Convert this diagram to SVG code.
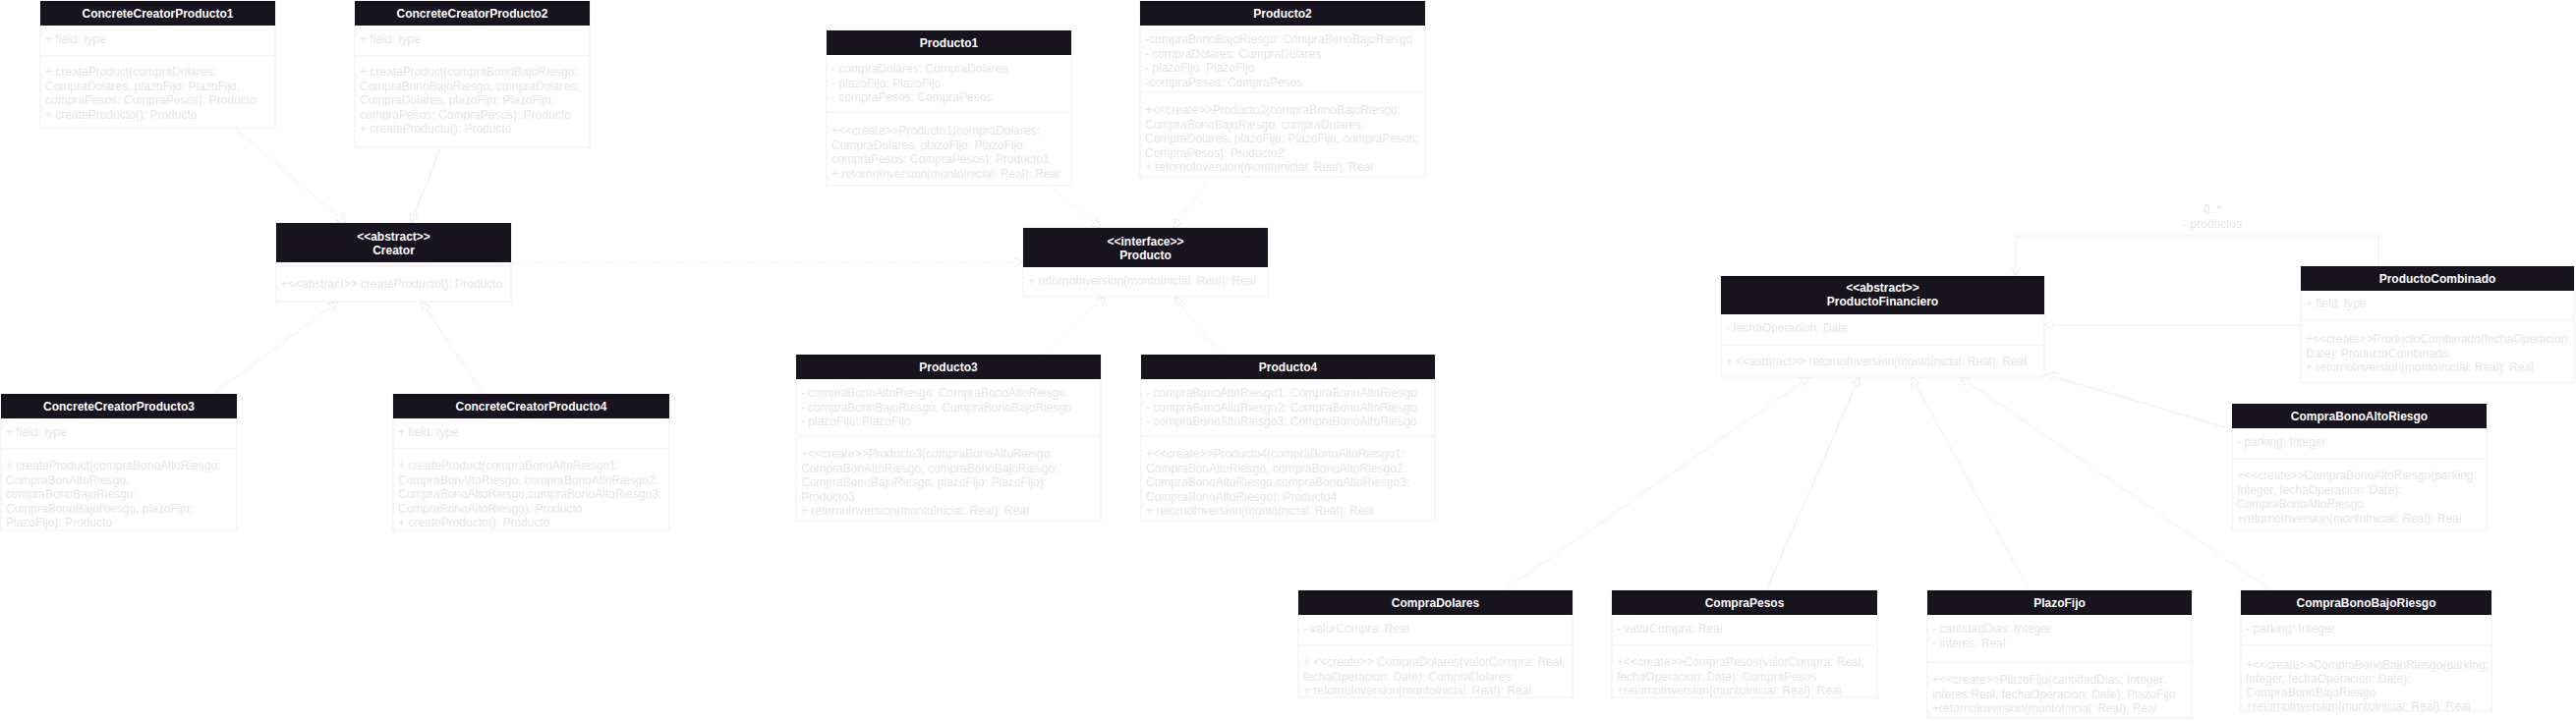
<svg xmlns="http://www.w3.org/2000/svg" width="2621" height="734" viewBox="0 0 2621 734">
<style>
.box{fill:#ffffff;stroke:#eeeeee;stroke-width:1}
.hd{fill:#18141f;stroke:none}
.sep{stroke:#eeeeee;stroke-width:1}
.ht{font-family:"Liberation Sans",Arial,sans-serif;font-size:12px;font-weight:bold;fill:#ffffff;text-anchor:middle}
.t{font-family:"Liberation Sans",Arial,sans-serif;font-size:12px;fill:#e6e6e6}
.lbl{font-family:"Liberation Sans",Arial,sans-serif;font-size:12px;fill:#e6e6e6;text-anchor:middle}
.c{fill:none;stroke:#eeeeee;stroke-width:1}
.d{stroke-dasharray:3 3}
</style>
<defs>
<marker id="tri" viewBox="0 0 10 10" refX="10" refY="5" markerWidth="9" markerHeight="9" markerUnits="userSpaceOnUse" orient="auto"><path d="M0,0 L10,5 L0,10 z" fill="#ffffff" stroke="#e6e6e6" stroke-width="1"/></marker>
<marker id="open" viewBox="0 0 10 10" refX="10" refY="5" markerWidth="9" markerHeight="9" markerUnits="userSpaceOnUse" orient="auto"><path d="M0,0 L10,5 L0,10" fill="none" stroke="#e6e6e6" stroke-width="1"/></marker>
</defs>
<rect width="2621" height="734" fill="#ffffff"/>

<g id="connectors">
<path class="c" d="M238,130 L352,227" marker-end="url(#tri)"/>
<path class="c" d="M448,151 L418,227" marker-end="url(#tri)"/>
<path class="c" d="M217,401 L344,307" marker-end="url(#tri)"/>
<path class="c" d="M492,401 L429,307" marker-end="url(#tri)"/>
<path class="c d" d="M520,267 L1041,267" marker-end="url(#open)"/>
<path class="c d" d="M1067,189 L1120,232" marker-end="url(#tri)"/>
<path class="c d" d="M1233,180 L1194,232" marker-end="url(#tri)"/>
<path class="c d" d="M1062,361 L1125,302" marker-end="url(#tri)"/>
<path class="c d" d="M1242,361 L1195,302" marker-end="url(#tri)"/>
<path class="c" d="M1530,601 L1841,384" marker-end="url(#tri)"/>
<path class="c" d="M1797,601 L1892,384" marker-end="url(#tri)"/>
<path class="c" d="M2065,601 L1945,384" marker-end="url(#tri)"/>
<path class="c" d="M2311,601 L1995,384" marker-end="url(#tri)"/>
<path class="c" d="M2271,437 L2081,381" marker-end="url(#tri)"/>
<path class="c" d="M2341,331 L2080,331" marker-end="url(#tri)"/>
<path class="c" d="M2420,271 L2420,240 L2051,240 L2051,281" marker-end="url(#open)"/>
<text class="lbl" x="2251" y="217">0..*</text>
<text class="lbl" x="2251" y="232">- productos</text>
</g>

<g id="ConcreteCreatorProducto1">
<rect class="box" x="41" y="1" width="239" height="129"/>
<rect class="hd" x="41" y="1" width="239" height="25"/>
<text class="ht" x="160.5" y="18">ConcreteCreatorProducto1</text>
<text class="t" x="46" y="44">+ field: type</text>
<line class="sep" x1="41" y1="57" x2="280" y2="57"/>
<text class="t" x="46" y="77">+ createProduct(compraDolares:</text>
<text class="t" x="46" y="91.5">CompraDolares, plazoFijo: PlazoFijo,</text>
<text class="t" x="46" y="106">compraPesos: CompraPesos): Producto</text>
<text class="t" x="46" y="120.5">+ createProducto(): Producto</text>
</g>

<g id="ConcreteCreatorProducto2">
<rect class="box" x="361" y="1" width="239" height="149"/>
<rect class="hd" x="361" y="1" width="239" height="25"/>
<text class="ht" x="480.5" y="18">ConcreteCreatorProducto2</text>
<text class="t" x="366" y="44">+ field: type</text>
<line class="sep" x1="361" y1="57" x2="600" y2="57"/>
<text class="t" x="366" y="77">+ createProduct(compraBonoBajoRiesgo:</text>
<text class="t" x="366" y="91.5">CompraBonoBajoRiesgo, compraDolares:</text>
<text class="t" x="366" y="106">CompraDolares, plazoFijo: PlazoFijo,</text>
<text class="t" x="366" y="120.5">compraPesos: CompraPesos): Producto</text>
<text class="t" x="366" y="135">+ createProducto(): Producto</text>
</g>

<g id="Producto1">
<rect class="box" x="841" y="31" width="249" height="158"/>
<rect class="hd" x="841" y="31" width="249" height="25"/>
<text class="ht" x="965.5" y="48">Producto1</text>
<text class="t" x="846" y="74">- compraDolares: CompraDolares</text>
<text class="t" x="846" y="88.5">- plazoFijo: PlazoFijo</text>
<text class="t" x="846" y="103">- compraPesos: CompraPesos</text>
<line class="sep" x1="841" y1="114" x2="1090" y2="114"/>
<text class="t" x="846" y="137">+&lt;&lt;create&gt;&gt;Producto1(compraDolares:</text>
<text class="t" x="846" y="151.5">CompraDolares, plazoFijo: PlazoFijo,</text>
<text class="t" x="846" y="166">compraPesos: CompraPesos): Producto1</text>
<text class="t" x="846" y="180.5">+ retornoInversion(montoInicial: Real): Real</text>
</g>

<g id="Producto2">
<rect class="box" x="1160" y="1" width="290" height="179"/>
<rect class="hd" x="1160" y="1" width="290" height="25"/>
<text class="ht" x="1305" y="18">Producto2</text>
<text class="t" x="1165" y="44">-compraBonoBajoRiesgo: CompraBonoBajoRiesgo</text>
<text class="t" x="1165" y="58.5">- compraDolares: CompraDolares</text>
<text class="t" x="1165" y="73">- plazoFijo: PlazoFijo</text>
<text class="t" x="1165" y="87.5">-compraPesos: CompraPesos</text>
<line class="sep" x1="1160" y1="94" x2="1450" y2="94"/>
<text class="t" x="1165" y="116">+&lt;&lt;create&gt;&gt;Producto2(compraBonoBajoRiesgo:</text>
<text class="t" x="1165" y="130.5">CompraBonoBajoRiesgo, compraDolares:</text>
<text class="t" x="1165" y="145">CompraDolares, plazoFijo: PlazoFijo, compraPesos:</text>
<text class="t" x="1165" y="159.5">CompraPesos): Producto2</text>
<text class="t" x="1165" y="174">+ retornoInversion(montoInicial: Real): Real</text>
</g>

<g id="Creator">
<rect class="box" x="281" y="227" width="239" height="80"/>
<rect class="hd" x="281" y="227" width="239" height="40"/>
<text class="ht" x="400.5" y="245">&lt;&lt;abstract&gt;&gt;</text>
<text class="ht" x="400.5" y="259">Creator</text>
<line class="sep" x1="281" y1="271" x2="520" y2="271"/>
<text class="t" x="286" y="293">+&lt;&lt;abstract&gt;&gt; createProducto(): Producto</text>
</g>

<g id="Producto">
<rect class="box" x="1041" y="232" width="249" height="70"/>
<rect class="hd" x="1041" y="232" width="249" height="40"/>
<text class="ht" x="1165.5" y="250">&lt;&lt;interface&gt;&gt;</text>
<text class="ht" x="1165.5" y="264">Producto</text>
<text class="t" x="1046" y="290">+ retornoInversion(montoInicial: Real): Real</text>
</g>

<g id="ConcreteCreatorProducto3">
<rect class="box" x="1" y="401" width="240" height="139"/>
<rect class="hd" x="1" y="401" width="240" height="25"/>
<text class="ht" x="121" y="418">ConcreteCreatorProducto3</text>
<text class="t" x="6" y="444">+ field: type</text>
<line class="sep" x1="1" y1="457" x2="241" y2="457"/>
<text class="t" x="6" y="478">+ createProduct(compraBonoAltoRiesgo:</text>
<text class="t" x="6" y="492.5">CompraBonAltoRiesgo,</text>
<text class="t" x="6" y="507">compraBonoBajoRiesgo:</text>
<text class="t" x="6" y="521.5">CompraBonoBajoRiesgo, plazoFijo:</text>
<text class="t" x="6" y="536">PlazoFijo): Producto</text>
</g>

<g id="ConcreteCreatorProducto4">
<rect class="box" x="400" y="401" width="281" height="139"/>
<rect class="hd" x="400" y="401" width="281" height="25"/>
<text class="ht" x="540.5" y="418">ConcreteCreatorProducto4</text>
<text class="t" x="405" y="444">+ field: type</text>
<line class="sep" x1="400" y1="457" x2="681" y2="457"/>
<text class="t" x="405" y="478">+ createProduct(compraBonoAltoRiesgo1:</text>
<text class="t" x="405" y="492.5">CompraBonAltoRiesgo, compraBonoAltoRiesgo2:</text>
<text class="t" x="405" y="507">CompraBonoAltoRiesgo,compraBonoAltoRiesgo3:</text>
<text class="t" x="405" y="521.5">CompraBonoAltoRiesgo): Producto</text>
<text class="t" x="405" y="536">+ createProducto(): Producto</text>
</g>

<g id="Producto3">
<rect class="box" x="810" y="361" width="310" height="169"/>
<rect class="hd" x="810" y="361" width="310" height="25"/>
<text class="ht" x="965" y="378">Producto3</text>
<text class="t" x="815" y="404">- compraBonoAltoRiesgo: CompraBonoAltoRiesgo</text>
<text class="t" x="815" y="418.5">- compraBonoBajoRiesgo: CompraBonoBajoRiesgo</text>
<text class="t" x="815" y="433">- plazoFijo: PlazoFijo</text>
<line class="sep" x1="810" y1="444" x2="1120" y2="444"/>
<text class="t" x="815" y="466">+&lt;&lt;create&gt;&gt;Producto3(compraBonoAltoRiesgo:</text>
<text class="t" x="815" y="480.5">CompraBonAltoRiesgo, compraBonoBajoRiesgo:</text>
<text class="t" x="815" y="495">CompraBonoBajoRiesgo, plazoFijo: PlazoFijo):</text>
<text class="t" x="815" y="509.5">Producto3</text>
<text class="t" x="815" y="524">+ retornoInversion(montoInicial: Real): Real</text>
</g>

<g id="Producto4">
<rect class="box" x="1161" y="361" width="299" height="169"/>
<rect class="hd" x="1161" y="361" width="299" height="25"/>
<text class="ht" x="1310.5" y="378">Producto4</text>
<text class="t" x="1166" y="404">- compraBonoAltoRiesgo1: CompraBonoAltoRiesgo</text>
<text class="t" x="1166" y="418.5">- compraBonoAltoRiesgo2: CompraBonoAltoRiesgo</text>
<text class="t" x="1166" y="433">- compraBonoAltoRiesgo3: CompraBonoAltoRiesgo</text>
<line class="sep" x1="1161" y1="444" x2="1460" y2="444"/>
<text class="t" x="1166" y="466">+&lt;&lt;create&gt;&gt;Producto4(compraBonoAltoRiesgo1:</text>
<text class="t" x="1166" y="480.5">CompraBonAltoRiesgo, compraBonoAltoRiesgo2:</text>
<text class="t" x="1166" y="495">CompraBonoAltoRiesgo,compraBonoAltoRiesgo3:</text>
<text class="t" x="1166" y="509.5">CompraBonoAltoRiesgo): Producto4</text>
<text class="t" x="1166" y="524">+ retornoInversion(montoInicial: Real): Real</text>
</g>

<g id="ProductoFinanciero">
<rect class="box" x="1751" y="281" width="329" height="103"/>
<rect class="hd" x="1751" y="281" width="329" height="39"/>
<text class="ht" x="1915.5" y="297">&lt;&lt;abstract&gt;&gt;</text>
<text class="ht" x="1915.5" y="311">ProductoFinanciero</text>
<text class="t" x="1756" y="338">- fechaOperacion: Date</text>
<line class="sep" x1="1751" y1="351" x2="2080" y2="351"/>
<text class="t" x="1756" y="372">+ &lt;&lt;asbtract&gt;&gt; retornoInversion(montoInicial: Real): Real</text>
</g>

<g id="ProductoCombinado">
<rect class="box" x="2341" y="271" width="278" height="119"/>
<rect class="hd" x="2341" y="271" width="278" height="25"/>
<text class="ht" x="2480" y="288">ProductoCombinado</text>
<text class="t" x="2346" y="313">+ field: type</text>
<line class="sep" x1="2341" y1="326" x2="2619" y2="326"/>
<text class="t" x="2346" y="349">+&lt;&lt;create&gt;&gt;ProductoCombinado(fechaOperacion:</text>
<text class="t" x="2346" y="363.5">Date): ProductoCombinado</text>
<text class="t" x="2346" y="378">+ retornoInversion(montoInicial: Real): Real</text>
</g>

<g id="CompraBonoAltoRiesgo">
<rect class="box" x="2271" y="411" width="259" height="129"/>
<rect class="hd" x="2271" y="411" width="259" height="25"/>
<text class="ht" x="2400.5" y="428">CompraBonoAltoRiesgo</text>
<text class="t" x="2276" y="454">- parking: Integer</text>
<line class="sep" x1="2271" y1="467" x2="2530" y2="467"/>
<text class="t" x="2276" y="488">+&lt;&lt;create&gt;&gt;CompraBonoAltoRiesgo(parking:</text>
<text class="t" x="2276" y="502.5">Integer, fechaOperacion: Date):</text>
<text class="t" x="2276" y="517">CompraBonoAltoRiesgo</text>
<text class="t" x="2276" y="531.5">+retornoInversion(montoInicial: Real): Real</text>
</g>

<g id="CompraDolares">
<rect class="box" x="1321" y="601" width="279" height="109"/>
<rect class="hd" x="1321" y="601" width="279" height="25"/>
<text class="ht" x="1460.5" y="618">CompraDolares</text>
<text class="t" x="1326" y="644">- valorCompra: Real</text>
<line class="sep" x1="1321" y1="657" x2="1600" y2="657"/>
<text class="t" x="1326" y="678">+ &lt;&lt;create&gt;&gt; CompraDolares(valorCompra: Real,</text>
<text class="t" x="1326" y="692.5">fechaOperacion: Date): CompraDolares</text>
<text class="t" x="1326" y="707">+ retornoInversion(montoInicial: Real): Real</text>
</g>

<g id="CompraPesos">
<rect class="box" x="1640" y="601" width="270" height="109"/>
<rect class="hd" x="1640" y="601" width="270" height="25"/>
<text class="ht" x="1775" y="618">CompraPesos</text>
<text class="t" x="1645" y="644">- valorCompra: Real</text>
<line class="sep" x1="1640" y1="657" x2="1910" y2="657"/>
<text class="t" x="1645" y="678">+&lt;&lt;create&gt;&gt;CompraPesos(valorCompra: Real,</text>
<text class="t" x="1645" y="692.5">fechaOperacion: Date): CompraPesos</text>
<text class="t" x="1645" y="707">+retornoInversion(montoInicial: Real): Real</text>
</g>

<g id="PlazoFijo">
<rect class="box" x="1961" y="601" width="269" height="130"/>
<rect class="hd" x="1961" y="601" width="269" height="25"/>
<text class="ht" x="2095.5" y="618">PlazoFijo</text>
<text class="t" x="1966" y="644">- cantidadDias: Integer</text>
<text class="t" x="1966" y="658.5">- interes: Real</text>
<line class="sep" x1="1961" y1="674" x2="2230" y2="674"/>
<text class="t" x="1966" y="696">+&lt;&lt;create&gt;&gt;PlazoFijo(cantidadDias: Integer,</text>
<text class="t" x="1966" y="710.5">interes:Real, fechaOperacion: Date): PlazoFijo</text>
<text class="t" x="1966" y="725">+retornoInversion(montoInicial: Real): Real</text>
</g>

<g id="CompraBonoBajoRiesgo">
<rect class="box" x="2280" y="601" width="255" height="123"/>
<rect class="hd" x="2280" y="601" width="255" height="25"/>
<text class="ht" x="2407.5" y="618">CompraBonoBajoRiesgo</text>
<text class="t" x="2285" y="644">- parking: Integer</text>
<line class="sep" x1="2280" y1="657" x2="2535" y2="657"/>
<text class="t" x="2285" y="681">+&lt;&lt;create&gt;&gt;CompraBonoBajoRiesgo(parking:</text>
<text class="t" x="2285" y="695">Integer, fechaOperacion: Date):</text>
<text class="t" x="2285" y="708.5">CompraBonoBajoRiesgo</text>
<text class="t" x="2285" y="722.5">+retornoInversion(montoInicial: Real): Real</text>
</g>
</svg>
